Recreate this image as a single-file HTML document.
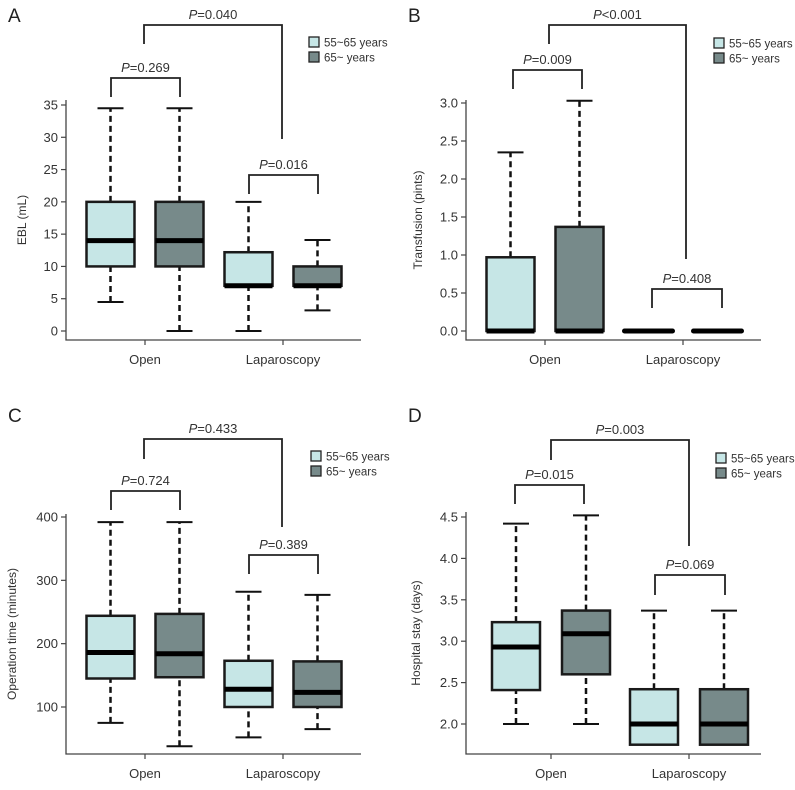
<!DOCTYPE html>
<html><head><meta charset="utf-8">
<style>
html,body{margin:0;padding:0;background:#fff;}
svg{display:block;font-family:"Liberation Sans",sans-serif;}
</style></head>
<body>
<svg id="fig" width="795" height="790" viewBox="0 0 795 790"></svg>
<script>
// ===== Data =====
const categories = ["Open", "Laparoscopy"];
const groups = ["55~65 years", "65~ years"];
// [whisker low, q1, median, q3, whisker high]
const ebl_open_55 = [4.5, 10, 14, 20, 34.5];
const ebl_open_65 = [0, 10, 14, 20, 34.5];
const ebl_lap_55 = [0, 7, 7, 12.2, 20];
const ebl_lap_65 = [3.2, 7, 7, 10, 14.1];
const trans_open_55 = [0, 0, 0, 0.97, 2.35];
const trans_open_65 = [0, 0, 0, 1.37, 3.03];
const trans_lap_55 = [0, 0, 0, 0, 0];
const trans_lap_65 = [0, 0, 0, 0, 0];
const op_open_55 = [75, 145, 186, 244, 392];
const op_open_65 = [38, 147, 184, 247, 392];
const op_lap_55 = [52, 100, 128, 173, 282];
const op_lap_65 = [65, 100, 123, 172, 277];
const stay_open_55 = [2.0, 2.41, 2.93, 3.23, 4.42];
const stay_open_65 = [2.0, 2.6, 3.09, 3.37, 4.52];
const stay_lap_55 = [1.75, 1.75, 2.0, 2.42, 3.37];
const stay_lap_65 = [1.75, 1.75, 2.0, 2.42, 3.37];
const ticks_ebl = [0, 5, 10, 15, 20, 25, 30, 35];
const ticks_trans = [0, 0.5, 1.0, 1.5, 2.0, 2.5, 3.0];
const ticks_op = [100, 200, 300, 400];
const ticks_stay = [2.0, 2.5, 3.0, 3.5, 4.0, 4.5];
const pvals_A = ["=0.269", "=0.040", "=0.016"];
const pvals_B = ["=0.009", "<0.001", "=0.408"];
const pvals_C = ["=0.724", "=0.433", "=0.389"];
const pvals_D = ["=0.015", "=0.003", "=0.069"];

const NS = "http://www.w3.org/2000/svg";
const svg = document.getElementById("fig");
function mk(tag, attrs, parent) {
  const e = document.createElementNS(NS, tag);
  for (const k in attrs) e.setAttribute(k, attrs[k]);
  (parent || svg).appendChild(e);
  return e;
}
const COLORS = ["#c6e6e6", "#778a8a"];

function panel(cfg) {
  const g = mk("g", {transform: `translate(${cfg.ox},${cfg.oy})`});
  
  
  const y = v => cfg.py0 + (v - cfg.v0) * (cfg.py1 - cfg.py0) / (cfg.v1 - cfg.v0);
  const t = mk("text", {x: 8, y: 22, "font-size": 19, fill: "#222"}, g);
  t.textContent = cfg.letter;
  
  
  const ax = mk("path", {d: `M${cfg.ax},${cfg.axTop} V${cfg.axBot} H${cfg.axRight}`, stroke: "#444", "stroke-width": 1.3, fill: "none"}, g);
  
  
  cfg.ticks.forEach(v => {
    const ty = y(v);
    const tk = mk("line", {x1: cfg.ax - 5, x2: cfg.ax, y1: ty, y2: ty, stroke: "#444", "stroke-width": 1.2}, g);
    
    
    const lb = mk("text", {x: cfg.ax - 8, y: ty + 4.5, "font-size": 13, fill: "#333", "text-anchor": "end"}, g);
    lb.textContent = cfg.fmt(v);
    
    
  });
  const yl = mk("text", {transform: `translate(${cfg.ylx},${(cfg.axTop + cfg.axBot) / 2}) rotate(-90)`, "font-size": 12, fill: "#333", "text-anchor": "middle"}, g);
  yl.textContent = cfg.ylabel;
  
  
  categories.forEach((c, i) => {
    const cx = cfg.cat[i];
    const tk = mk("line", {x1: cx, x2: cx, y1: cfg.axBot, y2: cfg.axBot + 5, stroke: "#444", "stroke-width": 1.2}, g);
    
    
    const lb = mk("text", {x: cx, y: cfg.axBot + 24, "font-size": 13, fill: "#333", "text-anchor": "middle"}, g);
    lb.textContent = c;
    
    
  });
  const hw = 24, cw = 13;
  cfg.data.forEach((d, i) => {
    const cx = cfg.cat[Math.floor(i / 2)] + (i % 2 === 0 ? -cfg.off : cfg.off);
    const bg = mk("g", {}, g);
    
    
    if (d[4] > d[3]) mk("line", {x1: cx, x2: cx, y1: y(d[3]), y2: y(d[4]), stroke: "#111", "stroke-width": 2.5, "stroke-dasharray": "6,4"}, bg);
    if (d[1] > d[0]) mk("line", {x1: cx, x2: cx, y1: y(d[0]), y2: y(d[1]), stroke: "#111", "stroke-width": 2.5, "stroke-dasharray": "6,4"}, bg);
    if (d[4] > d[3]) mk("line", {x1: cx - cw, x2: cx + cw, y1: y(d[4]), y2: y(d[4]), stroke: "#111", "stroke-width": 2}, bg);
    if (d[1] > d[0]) mk("line", {x1: cx - cw, x2: cx + cw, y1: y(d[0]), y2: y(d[0]), stroke: "#111", "stroke-width": 2}, bg);
    if (d[3] > d[1]) mk("rect", {x: cx - hw, y: y(d[3]), width: 2 * hw, height: y(d[1]) - y(d[3]), fill: COLORS[i % 2], stroke: "#1a1a1a", "stroke-width": 2.5}, bg);
    mk("line", {x1: cx - hw, x2: cx + hw, y1: y(d[2]), y2: y(d[2]), stroke: "#000", "stroke-width": 5, "stroke-linecap": d[3] > d[1] ? "butt" : "round"}, bg);
  });
  cfg.br.forEach((b, i) => {
    const bk = mk("path", {d: `M${b[0]},${b[3]} V${b[2]} H${b[1]} V${b[4]}`, stroke: "#222", "stroke-width": 1.8, fill: "none"}, g);
    
    
    const tx = mk("text", {x: (b[0] + b[1]) / 2, y: b[2] - 6, "font-size": 13, fill: "#333", "text-anchor": "middle"}, g);
    const it = mk("tspan", {"font-style": "italic"}, tx); it.textContent = "P";
    const rs = mk("tspan", {}, tx); rs.textContent = cfg.p[i];
    
    
  });
  groups.forEach((gname, i) => {
    const le = mk("g", {}, g);
    
    
    mk("rect", {x: cfg.lgx, y: cfg.lgy + i * 15, width: 10, height: 10, fill: COLORS[i], stroke: "#222", "stroke-width": 1.3}, le);
    const lt = mk("text", {x: cfg.lgx + 15, y: cfg.lgy + i * 15 + 9.5, "font-size": 11.5, fill: "#333"}, le);
    lt.textContent = gname;
  });
}
const f0 = v => String(v), f1 = v => v.toFixed(1);
panel({letter: "A", ox: 0, oy: 0, v0: 0, py0: 331, v1: 35, py1: 105, ax: 66, axTop: 100, axBot: 340, axRight: 361,
  cat: [145, 283], off: 34.5, ticks: ticks_ebl, fmt: f0, ylabel: "EBL (mL)", ylx: 26,
  data: [ebl_open_55, ebl_open_65, ebl_lap_55, ebl_lap_65], p: pvals_A,
  br: [[111, 180, 78, 97, 97], [144, 282, 25, 44, 139], [249, 318, 175, 194, 194]], lgx: 309, lgy: 37});
panel({letter: "B", ox: 400, oy: 0, v0: 0, py0: 331, v1: 3, py1: 103, ax: 66, axTop: 100, axBot: 340, axRight: 361,
  cat: [145, 283], off: 34.5, ticks: ticks_trans, fmt: f1, ylabel: "Transfusion (pints)", ylx: 22,
  data: [trans_open_55, trans_open_65, trans_lap_55, trans_lap_65], p: pvals_B,
  br: [[113, 182, 70, 89, 89], [149, 286, 25, 44, 259], [252, 322, 289, 308, 308]], lgx: 314, lgy: 38});
panel({letter: "C", ox: 0, oy: 400, v0: 100, py0: 307, v1: 400, py1: 117, ax: 66, axTop: 114, axBot: 354, axRight: 361,
  cat: [145, 283], off: 34.5, ticks: ticks_op, fmt: f0, ylabel: "Operation time (minutes)", ylx: 16,
  data: [op_open_55, op_open_65, op_lap_55, op_lap_65], p: pvals_C,
  br: [[111, 180, 91, 110, 110], [144, 282, 39, 59, 127], [249, 318, 155, 174, 174]], lgx: 311, lgy: 51});
panel({letter: "D", ox: 400, oy: 400, v0: 2, py0: 324, v1: 4.5, py1: 117, ax: 66, axTop: 112, axBot: 354, axRight: 361,
  cat: [151, 289], off: 35, ticks: ticks_stay, fmt: f1, ylabel: "Hospital stay (days)", ylx: 20,
  data: [stay_open_55, stay_open_65, stay_lap_55, stay_lap_65], p: pvals_D,
  br: [[115, 184, 85, 104, 104], [151, 289, 40, 60, 146], [255, 325, 175, 195, 195]], lgx: 316, lgy: 53});
</script>
</body></html>
